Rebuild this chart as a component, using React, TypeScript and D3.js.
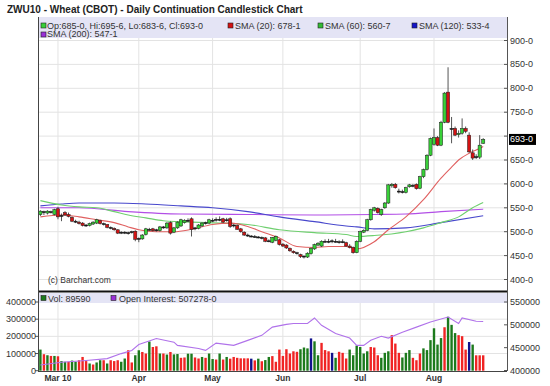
import React from "react";
import * as d3 from "d3";

const TITLE = "ZWU10 - Wheat (CBOT) - Daily Continuation Candlestick Chart";
const START = "2010-02-22";
const END = "2010-08-20";
const HOLIDAYS = ["2010-04-02", "2010-05-31", "2010-07-05"];
const MONTH_LABELS = ["Mar 10", "Apr", "May", "Jun", "Jul", "Aug"];
const PRICE_TICKS = [400, 450, 500, 550, 600, 650, 700, 750, 800, 850, 900];
const VOL_TICKS = [0, 100000, 200000, 300000, 400000];
const OI_TICKS = [400000, 450000, 500000, 550000];
const LAST_PRICE = 693;

// [open, high, low, close] per trading day
const ohlc: [number, number, number, number][] = [
  [536, 545, 533, 543], [540, 544, 535, 542], [539, 545, 536, 543], [542, 544, 538, 541], [536, 548, 534, 546],
  [548, 552, 526, 531], [532, 538, 522, 534], [540, 543, 533, 535], [536, 540, 530, 532], [530, 532, 520, 522],
  [522, 525, 518, 521], [520, 523, 515, 517], [518, 520, 511, 513], [513, 516, 510, 514], [513, 519, 511, 517],
  [516, 522, 514, 520], [518, 527, 516, 525], [523, 525, 515, 517], [517, 519, 513, 515], [515, 516, 507, 509],
  [509, 511, 505, 507], [507, 509, 502, 504], [504, 505, 495, 497], [498, 501, 495, 499], [499, 501, 495, 497],
  [497, 500, 494, 498], [500, 502, 496, 499], [501, 503, 480, 484], [484, 488, 478, 486], [485, 495, 483, 493],
  [494, 508, 492, 506], [505, 508, 502, 505], [506, 508, 500, 502], [502, 506, 500, 504], [502, 512, 500, 510],
  [509, 512, 506, 510], [508, 520, 506, 518], [519, 522, 494, 497], [499, 510, 497, 508], [508, 522, 506, 520],
  [512, 527, 510, 525], [519, 526, 517, 524], [524, 528, 520, 522], [527, 530, 490, 505], [506, 510, 503, 508],
  [507, 516, 505, 514], [512, 520, 510, 518], [518, 521, 515, 519], [518, 527, 516, 525], [524, 528, 520, 523],
  [524, 530, 521, 526], [526, 532, 522, 525], [527, 529, 518, 520], [525, 529, 521, 524], [527, 530, 508, 511],
  [512, 516, 509, 514], [513, 515, 504, 505], [506, 508, 498, 500], [499, 501, 491, 493], [493, 496, 489, 491],
  [491, 493, 488, 490], [490, 493, 487, 489], [489, 491, 486, 488], [488, 490, 484, 487], [487, 489, 478, 480],
  [481, 484, 478, 480], [478, 489, 476, 488], [482, 492, 480, 490], [483, 485, 471, 473], [474, 476, 468, 470],
  [472, 474, 464, 466], [465, 467, 458, 460], [459, 461, 454, 456], [456, 458, 452, 455], [452, 454, 445, 448],
  [447, 450, 444, 449], [447, 457, 445, 455], [454, 467, 452, 465], [464, 475, 462, 473], [472, 478, 470, 476],
  [470, 482, 468, 480], [480, 484, 477, 480], [480, 485, 476, 479], [479, 484, 476, 481], [480, 485, 477, 478],
  [478, 482, 475, 479], [479, 484, 476, 478], [477, 479, 468, 470], [470, 474, 465, 467], [467, 469, 454, 456],
  [456, 482, 455, 480], [480, 502, 478, 500], [499, 505, 497, 503], [503, 527, 501, 525], [525, 548, 523, 546],
  [545, 552, 542, 550], [549, 551, 538, 540], [536, 548, 533, 546], [550, 562, 548, 560], [560, 600, 558, 598],
  [596, 602, 592, 599], [599, 602, 590, 592], [585, 590, 580, 583], [583, 588, 580, 584], [582, 594, 580, 592],
  [594, 600, 592, 598], [597, 600, 593, 596], [599, 601, 588, 590], [591, 617, 589, 615], [615, 632, 612, 630],
  [630, 662, 628, 660], [660, 697, 658, 695], [683, 716, 680, 697], [697, 700, 679, 681], [681, 732, 679, 729],
  [729, 792, 727, 790], [792, 844, 727, 729], [716, 740, 685, 716], [716, 720, 700, 702], [703, 712, 697, 706],
  [706, 737, 703, 716], [716, 720, 706, 710], [702, 708, 665, 667], [665, 672, 650, 654], [656, 662, 652, 657],
  [656, 702, 652, 681], [685, 695.75, 683.75, 693],
];

const volume = [
  123000, 96000, 90000, 86000, 86000, 84000, 56000, 52000, 52000, 59000,
  52000, 61000, 80000, 56000, 42000, 36000, 48000, 61000, 61000, 42000,
  61000, 56000, 61000, 52000, 71000, 119000, 48000, 90000, 119000, 109000,
  100000, 170000, 138000, 142000, 100000, 100000, 94000, 109000, 95000, 97000,
  75000, 77000, 99000, 99000, 77000, 71000, 80000, 75000, 100000, 68000,
  65000, 100000, 65000, 80000, 70000, 80000, 75000, 72000, 72000, 72000,
  70000, 60000, 70000, 55000, 62000, 80000, 85000, 52000, 123000, 86000,
  125000, 100000, 113000, 110000, 125000, 135000, 130000, 188000, 171000, 90000,
  162000, 120000, 113000, 104000, 75000, 110000, 104000, 71000, 123000, 90000,
  146000, 138000, 100000, 113000, 138000, 135000, 90000, 75000, 104000, 113000,
  207000, 158000, 104000, 77000, 104000, 120000, 75000, 61000, 100000, 130000,
  120000, 178000, 247000, 152000, 190000, 253000, 314000, 267000, 219000, 207000,
  201000, 123000, 167000, 152000, 89590, 89590, 89590,
];
// u = up, d = down, n = unchanged
const volumeDir =
  "udududuuduuddduduududdduuddu" +
  "udduddududuudduudduduudududddddd" +
  "ndudu" +
  "udddddddduuunuudddnuddduuuuuuddduuudddu" +
  "uuddduuuuuuduuudddnudddu" +
  "uu";

// [trading-day index, value]
const openInterest: [number, number][] = [
  [0, 412000], [6, 418000], [13, 422000], [19, 426000], [23, 437000], [26, 444000], [28, 457000],
  [33, 470000], [38, 462000], [39, 455000], [45, 448000], [47, 444000], [50, 460000], [55, 455000],
  [59, 466000], [63, 477000], [66, 495000], [70, 501000], [72, 503000], [76, 503000], [78, 515000],
  [80, 499000], [84, 481000], [88, 471000], [90, 455000], [92, 455000], [94, 466000], [97, 475000],
  [99, 471000], [103, 484000], [107, 495000], [111, 506000], [116, 517000], [119, 503000],
  [120, 515000], [124, 508000], [126, 507278],
];

const sma20: [number, number][] = [
  [0, 531], [6, 535], [11, 531], [16, 525], [21, 519], [25, 510], [28, 504], [33, 500], [38, 500],
  [43, 505], [49, 515], [54, 518], [59, 511], [63, 500], [68, 487], [73, 469], [78, 467], [82, 469],
  [87, 469], [90, 464], [95, 479], [99, 504], [104, 531], [109, 567], [114, 612], [117, 635],
  [119, 650], [122, 664], [124, 671], [126, 678.125],
];
const sma60: [number, number][] = [
  [0, 565], [6, 556], [11, 552], [16, 550], [21, 542], [25, 535], [30, 529], [35, 523], [40, 521],
  [59, 515], [68, 504], [78, 498], [87, 494], [90, 490], [95, 492], [104, 500], [109, 508],
  [114, 519], [119, 531], [123, 550], [126, 560.875],
];
const sma120: [number, number][] = [
  [0, 554], [6, 558], [11, 560], [21, 560], [30, 558], [40, 554], [49, 550], [59, 542], [68, 531],
  [78, 521], [87, 512], [90, 510], [95, 506], [104, 508], [114, 519], [126, 533.5],
];
const sma200: [number, number][] = [
  [0, 550], [11, 550], [25, 542], [40, 537], [59, 536], [78, 535], [95, 536], [104, 537],
  [114, 542], [126, 547.125],
];

const FONT = "'Liberation Sans', Arial, Helvetica, sans-serif";
const C = {
  grid: "#e3e3e3",
  axis: "#555",
  legendBg: "#e4e4f5",
  up: "#38d038",
  down: "#d41212",
  vUp: "#1c7a1c",
  vDown: "#f02424",
  vFlat: "#12128c",
  s20: "#e06060",
  s60: "#6fcf6f",
  s120: "#4848cc",
  s200: "#b24fe6",
  oi: "#b072ea",
  text: "#333",
};

function fmtPrice(v: number) {
  const whole = Math.floor(v);
  const eighths = Math.round((v - whole) * 8);
  return `${whole}-${eighths}`;
}

export default function App() {
  const parse = d3.timeParse("%Y-%m-%d");
  const fmt = d3.timeFormat("%Y-%m-%d");
  const days = d3.timeDay
    .range(parse(START)!, d3.timeDay.offset(parse(END)!, 1))
    .filter((d) => d.getDay() !== 0 && d.getDay() !== 6 && !HOLIDAYS.includes(fmt(d)));
  const n = days.length;

  const left = 38, right = 507;
  const top = 17, legendBottom = 38, mainBottom = 291;
  const volLegendTop = 293, volLegendBottom = 303, volBottom = 371;

  const x = d3.scaleLinear().domain([0, n - 1]).range([40.4, 483.2]);
  const yP = d3.scaleLinear().domain([400, 900]).range([279.5, 40.5]);
  const yV = d3.scaleLinear().domain([0, 400000]).range([370.7, 302]);
  const yOI = d3.scaleLinear().domain([400000, 550000]).range([370.5, 302]);

  const monthIdx = days
    .map((d, i) => (i > 0 && d.getMonth() !== days[i - 1].getMonth() ? i : -1))
    .filter((i) => i >= 0);

  const smaLine = d3
    .line<[number, number]>()
    .x((d) => x(d[0]))
    .y((d) => yP(d[1]))
    .curve(d3.curveMonotoneX);
  const oiLine = d3
    .line<[number, number]>()
    .x((d) => x(d[0]))
    .y((d) => yOI(d[1]));

  const last = ohlc[ohlc.length - 1];
  const legendMain = `Op:${fmtPrice(last[0])}, Hi:${fmtPrice(last[1])}, Lo:${fmtPrice(last[2])}, Cl:${fmtPrice(last[3])}`;
  const s20 = sma20[sma20.length - 1][1];
  const s60 = sma60[sma60.length - 1][1];
  const s120 = sma120[sma120.length - 1][1];
  const s200 = sma200[sma200.length - 1][1];
  const lastVol = volume[volume.length - 1];
  const lastOI = openInterest[openInterest.length - 1][1];
  const lastY = yP(LAST_PRICE);

  const sq = (cx: number, cy: number, fill: string) => (
    <rect x={cx} y={cy} width={5} height={5} fill={fill} stroke="#222" strokeWidth={0.6} />
  );

  return (
    <svg
      width={550}
      height={386}
      style={{ position: "absolute", left: 0, top: 0, background: "#fff" }}
      fontFamily={FONT}
    >
      <rect x={0} y={0} width={550} height={386} fill="#fff" />
      {/* Title */}
      <text x={7} y={13} fontSize={10} fontWeight="bold" fill="#222">
        {TITLE}
      </text>

      {/* Main gridlines */}
      {PRICE_TICKS.map((p) => (
        <line key={"hg" + p} x1={left} x2={right} y1={yP(p)} y2={yP(p)} stroke={C.grid} />
      ))}
      {monthIdx.map((i) => (
        <g key={"vg" + i}>
          <line x1={x(i)} x2={x(i)} y1={legendBottom} y2={mainBottom} stroke={C.grid} />
          <line x1={x(i)} x2={x(i)} y1={volLegendBottom} y2={volBottom} stroke={C.grid} />
        </g>
      ))}
      {VOL_TICKS.filter((v) => v > 0).map((v) => (
        <line key={"vgh" + v} x1={left} x2={right} y1={yV(v)} y2={yV(v)} stroke={C.grid} />
      ))}

      {/* Legend box */}
      <rect x={left} y={top} width={right - left} height={legendBottom - top} fill={C.legendBg} />
      {sq(41, 23, C.up)}
      <text x={47} y={28.5} fontSize={9} fill={C.text}>{legendMain}</text>
      {sq(228, 23, C.down)}
      <text x={235} y={28.5} fontSize={9} fill={C.text}>{`SMA (20): ${fmtPrice(s20)}`}</text>
      {sq(318, 23, "#33bb33")}
      <text x={325} y={28.5} fontSize={9} fill={C.text}>{`SMA (60): ${fmtPrice(s60)}`}</text>
      {sq(412, 23, "#1515c8")}
      <text x={419} y={28.5} fontSize={9} fill={C.text}>{`SMA (120): ${fmtPrice(s120)}`}</text>
      {sq(41, 32, "#9a30d8")}
      <text x={47} y={37} fontSize={9} fill={C.text}>{`SMA (200): ${fmtPrice(s200)}`}</text>

      {/* SMA lines */}
      <path d={smaLine(sma200)!} fill="none" stroke={C.s200} strokeWidth={1.1} />
      <path d={smaLine(sma120)!} fill="none" stroke={C.s120} strokeWidth={1.1} />
      <path d={smaLine(sma60)!} fill="none" stroke={C.s60} strokeWidth={1.1} />
      <path d={smaLine(sma20)!} fill="none" stroke={C.s20} strokeWidth={1.1} />

      {/* Candles */}
      {ohlc.map(([o, h, l, c], i) => {
        const cx = x(i);
        const yTop = yP(Math.max(o, c));
        const hgt = Math.max(1, Math.abs(yP(o) - yP(c)));
        const up = c >= o;
        return (
          <g key={"c" + i}>
            <line x1={cx} x2={cx} y1={yP(h)} y2={yP(l)} stroke="#555" strokeWidth={1} />
            <rect
              x={cx - 1.6}
              y={yTop}
              width={3.2}
              height={hgt}
              fill={hgt <= 1.2 ? "#111" : up ? C.up : C.down}
              stroke="#1a1a1a"
              strokeWidth={0.5}
            />
          </g>
        );
      })}

      <text x={48} y={283} fontSize={8.5} fill={C.text}>(c) Barchart.com</text>

      {/* Separator */}
      <line x1={left} x2={right} y1={mainBottom + 0.5} y2={mainBottom + 0.5} stroke="#111" strokeWidth={2} />

      {/* Volume legend */}
      <rect x={left} y={volLegendTop} width={right - left} height={volLegendBottom - volLegendTop} fill={C.legendBg} />
      {sq(41, 295.5, C.vUp)}
      <text x={48} y={301.5} fontSize={9} fill={C.text}>{`Vol: ${lastVol}`}</text>
      {sq(111, 295.5, "#9a30d8")}
      <text x={119} y={301.5} fontSize={9} fill={C.text}>{`Open Interest: ${lastOI}-0`}</text>

      {/* Volume bars */}
      {volume.map((v, i) => {
        const dir = volumeDir[i];
        const fill = dir === "u" ? C.vUp : dir === "d" ? C.vDown : C.vFlat;
        return (
          <rect key={"v" + i} x={x(i) - 1.2} y={yV(v)} width={2.4} height={yV(0) - yV(v)} fill={fill} />
        );
      })}
      <path d={oiLine(openInterest)!} fill="none" stroke={C.oi} strokeWidth={1.1} />

      {/* Frame */}
      <line x1={left + 0.5} x2={left + 0.5} y1={top} y2={volBottom} stroke="#444" />
      <line x1={right + 0.5} x2={right + 0.5} y1={top} y2={volBottom} stroke="#555" />
      <line x1={left} x2={right} y1={volBottom + 0.5} y2={volBottom + 0.5} stroke="#444" />

      {/* Right price axis */}
      {PRICE_TICKS.map((p) => (
        <g key={"pt" + p}>
          <line x1={right - 3} x2={right} y1={yP(p)} y2={yP(p)} stroke="#555" />
          {Math.abs(yP(p) - lastY) > 10 && (
            <text x={510} y={yP(p) + 3} fontSize={9} fill={C.text}>{`${p}-0`}</text>
          )}
        </g>
      ))}
      <rect x={509} y={lastY - 5.5} width={27} height={11} fill="#000" />
      <text x={510} y={lastY + 3} fontSize={9} fill="#fff">{fmtPrice(LAST_PRICE)}</text>

      {/* Volume left axis */}
      {VOL_TICKS.map((v) => (
        <g key={"vt" + v}>
          <line x1={left - 3} x2={left} y1={yV(v)} y2={yV(v)} stroke="#555" />
          <text x={left - 2} y={yV(v) + 3} fontSize={9} textAnchor="end" fill={C.text}>{v}</text>
        </g>
      ))}
      {/* OI right axis */}
      {OI_TICKS.map((v) => (
        <g key={"ot" + v}>
          <line x1={right - 3} x2={right} y1={yOI(v)} y2={yOI(v)} stroke="#555" />
          <text x={510} y={yOI(v) + 3} fontSize={9} fill={C.text}>{v}</text>
        </g>
      ))}

      {/* Month labels */}
      {monthIdx.map((i, k) => (
        <text key={"ml" + i} x={x(i)} y={381} fontSize={8.5} fontWeight="bold" textAnchor="middle" fill={C.text}>
          {MONTH_LABELS[k]}
        </text>
      ))}
    </svg>
  );
}
